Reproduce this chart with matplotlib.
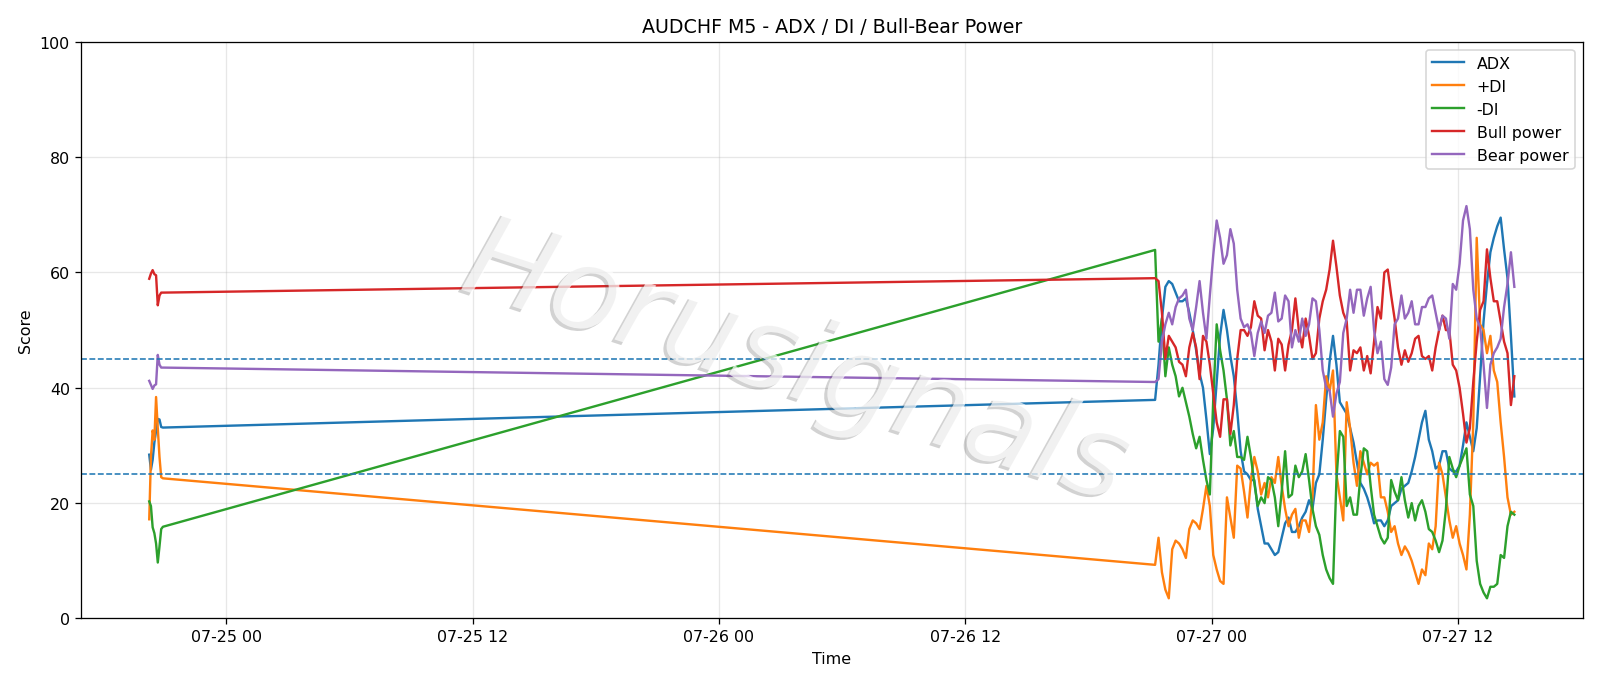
import pandas as pd
from matplotlib import pyplot as plt
import matplotlib.dates as mdates
import matplotlib.patheffects as pe

# two blocks of bars: a short one on 07-24, then the run after the gap
t_first = pd.date_range('2025-07-24 20:15', periods=9, freq='5min')
t_second = pd.date_range('2025-07-26 21:15', periods=106, freq='10min')

adx_1 = [28.4, 25.8, 27.5, 30.5, 32.5, 34.6, 34.5, 33.2, 33.1]
adx_2 = [37.9, 44, 52, 57.5, 58.5, 58, 56.5, 55, 55, 55.5,
         53, 50, 46.5, 42.5, 40, 34.5, 28.5, 33, 41, 49,
         53.5, 50, 45.5, 42, 36, 29, 25.5, 25, 24, 24,
         19, 16, 13, 13, 12, 11, 11.5, 14, 16.5, 17.5,
         15, 15, 16, 17.5, 18.5, 20.5, 19, 23.5, 25, 31,
         38, 44.5, 49, 44, 37.5, 36.5, 35.5, 33, 30.5, 27,
         23.5, 22.5, 21, 19, 16.5, 17, 17, 16, 17, 19.5,
         20, 20.5, 22.5, 23, 23.5, 25.5, 28, 31, 34, 36,
         31, 29, 26, 26.5, 29, 29, 26, 25.5, 25.5, 26.5,
         30, 34, 31.5, 29, 33, 42, 51.5, 58, 63.5, 66,
         68, 69.5, 64, 59, 49, 38.5]

pdi_1 = [17.2, 28, 32.6, 31, 38.4, 33, 28, 24.5, 24.3]
pdi_2 = [9.3, 14, 8, 5, 3.5, 12, 13.5, 13, 12, 10.5,
         15.5, 17, 16.5, 15.5, 19, 23, 19.5, 11, 8.5, 6.5,
         6, 21, 17.5, 14, 26.5, 26, 22, 17.5, 24, 28,
         25.5, 21.5, 23.5, 21, 24.5, 23.5, 28, 23, 19, 16,
         18, 19, 14, 17, 17, 15, 21, 37, 31, 34,
         42, 39.5, 43, 25, 21, 17, 37.5, 33, 27, 23,
         29, 27, 25, 27, 26.5, 27, 21, 21, 18.5, 15,
         16, 13, 11, 12.5, 11.5, 10, 8, 6, 8.5, 7.5,
         13, 12, 16, 27, 25, 21, 17, 14, 16, 13,
         11, 8.5, 18, 34, 66, 51, 50, 46, 49, 43,
         41, 34, 28, 21, 18, 18.5]

mdi_1 = [20.3, 19.5, 15.8, 14.8, 13, 9.7, 12.5, 15.5, 15.9]
mdi_2 = [63.9, 48, 52, 42, 47, 44, 42, 38.5, 40, 37.5,
         35, 32, 29.5, 31.5, 27.5, 24, 21.5, 38, 51, 46.5,
         43, 38, 30, 32.5, 28, 28, 27.5, 31.5, 28, 23.5,
         19.5, 21, 20, 24.5, 24, 21, 16, 22, 29, 21,
         21.5, 26.5, 24.5, 25.5, 28.5, 24, 19, 16, 14.5, 11,
         8.5, 7, 6, 24, 32.5, 31.5, 19.5, 21, 18, 18,
         24.5, 29.5, 29, 23, 18, 16, 14, 13, 14, 24,
         22, 20.5, 24.5, 20.5, 17.5, 20, 17, 19.5, 20.5, 18.5,
         15.5, 15, 13.5, 11.5, 13.5, 19, 28, 26, 24.5, 26.5,
         28, 29.5, 21.5, 19.5, 10, 6, 4.5, 3.5, 5.5, 5.5,
         6, 11, 10.5, 16, 18.5, 18]

bull_1 = [58.9, 59.8, 60.4, 59.7, 59.5, 54.3, 56.0, 56.5, 56.5]
bull_2 = [59, 58.5, 53, 45, 49, 48, 47, 44.5, 44, 42,
          47, 49.5, 47, 41.5, 49, 48, 44, 39, 34, 31.5,
          38, 38, 32, 37, 45, 50, 50, 49, 50.5, 55,
          52.5, 52, 46.5, 50, 48, 43, 48.5, 47.5, 43, 47.5,
          50, 55.5, 50, 47, 52, 49, 45, 46, 52, 55,
          57, 60.5, 65.5, 61, 56, 53, 51.5, 43, 46.5, 46,
          47, 43, 45.5, 42.5, 48, 54, 52, 60, 60.5, 56,
          52, 47, 44, 46.5, 44.5, 46, 48.5, 49, 45.5, 45,
          45.5, 43, 47, 50, 52.5, 50, 50, 44, 43, 40,
          35.5, 30.5, 33, 41, 48, 53.5, 55, 64, 59, 55,
          55, 51.5, 48, 46, 37, 42]

bear_1 = [41.2, 40.5, 39.8, 40.4, 40.6, 45.7, 44.0, 43.5, 43.5]
bear_2 = [41, 41.5, 48, 51, 53, 51, 54, 55.5, 56, 57,
          52, 50, 54, 58.5, 53, 48.5, 56, 63, 69, 66,
          61.5, 63, 67.5, 65, 57, 52, 50.5, 51, 49.5, 45.5,
          49.5, 51.5, 49.5, 52.5, 53, 56.5, 51.5, 52, 56, 55,
          47, 50, 48, 52, 49, 51, 55.5, 55, 50, 43,
          40, 39.5, 35, 39, 41, 49.5, 52, 57, 53, 57,
          57, 52.5, 55.5, 57.5, 50, 46, 48, 41.5, 40.5, 43.5,
          51, 52, 56, 52, 53, 55, 51, 51, 54, 54,
          55.5, 56, 53, 50, 52.5, 52, 48.5, 58, 57, 61.5,
          69, 71.5, 67.5, 57, 52, 50.5, 44, 36.5, 44, 46,
          47, 48.5, 54, 58, 63.5, 57.5]

times = t_first.append(t_second)
series = {
    'ADX': adx_1 + adx_2,
    '+DI': pdi_1 + pdi_2,
    '-DI': mdi_1 + mdi_2,
    'Bull power': bull_1 + bull_2,
    'Bear power': bear_1 + bear_2,
}

fig, ax = plt.subplots(figsize=(14, 6), dpi=114.3)
fig.subplots_adjust(left=0.0506, right=0.989, top=0.938, bottom=0.097)

for name, vals in series.items():
    ax.plot(times, vals, label=name)

ax.axhline(25, linestyle='--', linewidth=1, color='C0')
ax.axhline(45, linestyle='--', linewidth=1, color='C0')

ax.set_ylim(0, 100)
ax.set_title('AUDCHF M5 - ADX / DI / Bull-Bear Power')
ax.set_xlabel('Time')
ax.set_ylabel('Score')
ax.xaxis.set_major_locator(mdates.HourLocator(byhour=[0, 12]))
ax.xaxis.set_major_formatter(mdates.DateFormatter('%m-%d %H'))
ax.grid(True, alpha=0.3)
ax.legend(loc='upper right')

## watermark
fig.text(0.498, 0.468, 'Horusignals', fontsize=74, style='italic',
         color='white', alpha=0.7, rotation=-18,
         ha='center', va='center',
         path_effects=[pe.withSimplePatchShadow(offset=(-2, -1.5), alpha=0.25)])

plt.savefig('out.png', dpi=114.3)
